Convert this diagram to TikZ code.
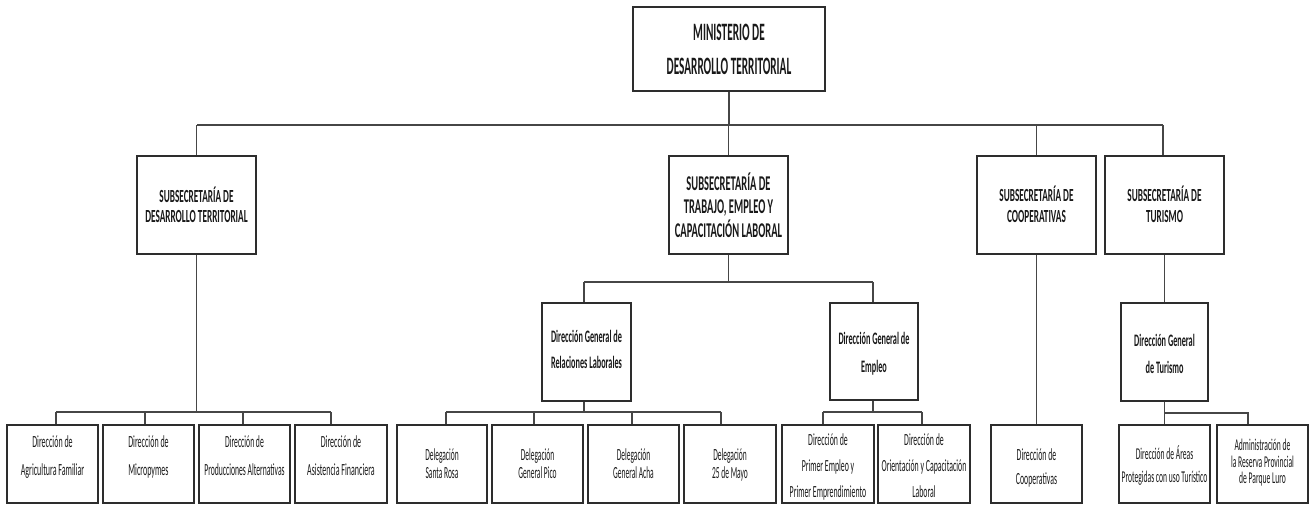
\documentclass[tikz,border=0pt]{standalone}
\usepackage{fontspec}
\usepackage{graphicx}
\setmainfont{Carlito}
\definecolor{boxc}{RGB}{45,45,45}
\definecolor{linec}{RGB}{70,70,70}
\definecolor{txtc}{RGB}{25,25,25}
% #1 extra font, #2 horizontal scale, #3 size, #4 skip, #5 lines
\newcommand\sq[5][]{\scalebox{#2}[1]{#1\fontsize{#3}{#4}\selectfont\begin{tabular}{@{}c@{}}#5\end{tabular}}}
\newcommand\orgbox[7]{%
  \node[orgbx, minimum width={#4-#2}, minimum height={#5-#3}] (#1) at ({(#2+#4)/2},{(#3+#5)/2}) {};
  \node[orgtxt] (#1-t) at ({(#2+#4)/2},#6) {#7};
}
\tikzset{
  orgbx/.style={draw=boxc, line width=1.2pt, rectangle, inner sep=0pt, fill=white},
  orgtxt/.style={inner sep=0pt, text=txtc},
  conn/.style={draw=linec, line width=1.2pt}
}
\begin{document}
\begin{tikzpicture}[x=1pt,y=-1pt]
\useasboundingbox (0,0) rectangle (1314,504);
% connector coordinates
\coordinate (b0L) at (197,125); \coordinate (b0R) at (1163,125);
\coordinate (b1L) at (56,412); \coordinate (b1a) at (145,412); \coordinate (b1b) at (243,412); \coordinate (b1R) at (331,412);
\coordinate (b2L) at (584,282); \coordinate (b2R) at (873,282);
\coordinate (b3L) at (446,412); \coordinate (b3a) at (534,412); \coordinate (b3b) at (632,412); \coordinate (b3R) at (721,412);
\coordinate (b3M) at (584,412);
\coordinate (b4L) at (823,412); \coordinate (b4R) at (922,412); \coordinate (b4M) at (873,412);
\coordinate (b5R) at (1248,413);
% boxes
\orgbox{top}{633}{7}{825}{91}{51}{\sq[\bfseries]{0.45}{25}{34}{MINISTERIO DE\\DESARROLLO TERRITORIAL}}
\orgbox{sdt}{137}{156}{256}{254}{208}{\sq[\bfseries]{0.5}{18.5}{20}{SUBSECRETARÍA DE\\DESARROLLO TERRITORIAL}}
\orgbox{stb}{669}{156}{788}{254}{208.5}{\sq[\bfseries]{0.5}{21}{22.5}{SUBSECRETARÍA DE\\TRABAJO, EMPLEO Y\\CAPACITACIÓN LABORAL}}
\orgbox{scp}{977}{156}{1096}{254}{207.5}{\sq[\bfseries]{0.5}{18.5}{21}{SUBSECRETARÍA DE\\COOPERATIVAS}}
\orgbox{stu}{1105}{156}{1224}{254}{207.5}{\sq[\bfseries]{0.5}{18.5}{21}{SUBSECRETARÍA DE\\TURISMO}}
\orgbox{dgr}{542}{303}{631}{401}{350}{\sq[\bfseries]{0.47}{17.5}{26}{Dirección General de\\Relaciones Laborales}}
\orgbox{dge}{830}{303}{918}{400}{353}{\sq[\bfseries]{0.47}{17.5}{28}{Dirección General de\\Empleo}}
\orgbox{dgt}{1121}{303}{1208}{401}{354.5}{\sq[\bfseries]{0.47}{17.5}{27}{Dirección General\\de Turismo}}
\orgbox{agr}{7}{425}{98}{503}{456}{\sq{0.47}{17}{28}{Dirección de\\Agricultura Familiar}}
\orgbox{mic}{103}{425}{194}{503}{456}{\sq{0.47}{17}{28}{Dirección de\\Micropymes}}
\orgbox{pro}{199}{425}{290}{503}{456}{\sq{0.45}{17}{28}{Dirección de\\Producciones Alternativas}}
\orgbox{asi}{295}{425}{387}{503}{456}{\sq{0.47}{17}{28}{Dirección de\\Asistencia Financiera}}
\orgbox{dsr}{397}{425}{487}{503}{466}{\sq{0.44}{17}{18.5}{Delegación\\Santa Rosa}}
\orgbox{dgp}{492}{425}{583}{503}{466}{\sq{0.44}{17}{18.5}{Delegación\\General Pico}}
\orgbox{dga}{588}{425}{679}{503}{466}{\sq{0.44}{17}{18.5}{Delegación\\General Acha}}
\orgbox{d25}{684}{425}{776}{503}{466}{\sq{0.44}{17}{18.5}{Delegación\\25 de Mayo}}
\orgbox{dpe}{782}{425}{874}{503}{466}{\sq{0.46}{17}{26}{Dirección de\\Primer Empleo y\\Primer Emprendimiento}}
\orgbox{doc}{878}{425}{970}{503}{466}{\sq{0.46}{17}{26}{Dirección de\\Orientación y Capacitación\\Laboral}}
\orgbox{dco}{991}{425}{1082}{503}{468}{\sq{0.46}{17}{24}{Dirección de\\Cooperativas}}
\orgbox{dap}{1119}{425}{1210}{503}{466.5}{\sq{0.46}{16.5}{23}{Dirección de Áreas\\Protegidas con uso Turístico}}
\orgbox{dad}{1217}{425}{1308}{503}{464}{\sq{0.46}{16.5}{16.5}{Administración de\\la Reserva Provincial\\de Parque Luro}}
% connectors
\draw[conn] (top.south) -- (top.south |- b0L);
\draw[conn] (b0L) -- (b0R);
\draw[conn] (sdt.north |- b0L) -- (sdt.north);
\draw[conn] (stb.north |- b0L) -- (stb.north);
\draw[conn] (scp.north |- b0L) -- (scp.north);
\draw[conn] (b0R) -- (b0R |- stu.north);
% DT
\draw[conn] (sdt.south) -- (sdt.south |- b1L);
\draw[conn] (b1L) -- (b1R);
\draw[conn] (b1L) -- (b1L |- agr.north);
\draw[conn] (b1a) -- (b1a |- mic.north);
\draw[conn] (b1b) -- (b1b |- pro.north);
\draw[conn] (b1R) -- (b1R |- asi.north);
% Trabajo
\draw[conn] (stb.south) -- (stb.south |- b2L);
\draw[conn] (b2L) -- (b2R);
\draw[conn] (b2L) -- (b2L |- dgr.north);
\draw[conn] (b2R) -- (b2R |- dge.north);
% Relaciones
\draw[conn] (b3M |- dgr.south) -- (b3M);
\draw[conn] (b3L) -- (b3R);
\draw[conn] (b3L) -- (b3L |- dsr.north);
\draw[conn] (b3a) -- (b3a |- dgp.north);
\draw[conn] (b3b) -- (b3b |- dga.north);
\draw[conn] (b3R) -- (b3R |- d25.north);
% Empleo
\draw[conn] (b4M |- dge.south) -- (b4M);
\draw[conn] (b4L) -- (b4R);
\draw[conn] (b4L) -- (b4L |- dpe.north);
\draw[conn] (b4R) -- (b4R |- doc.north);
% Cooperativas
\draw[conn] (scp.south) -- (dco.north);
% Turismo
\draw[conn] (stu.south) -- (dgt.north);
\draw[conn] (dgt.south) -- (dap.north);
\draw[conn] (dgt.south |- b5R) -- (b5R) -- (b5R |- dad.north);
\end{tikzpicture}
\end{document}
